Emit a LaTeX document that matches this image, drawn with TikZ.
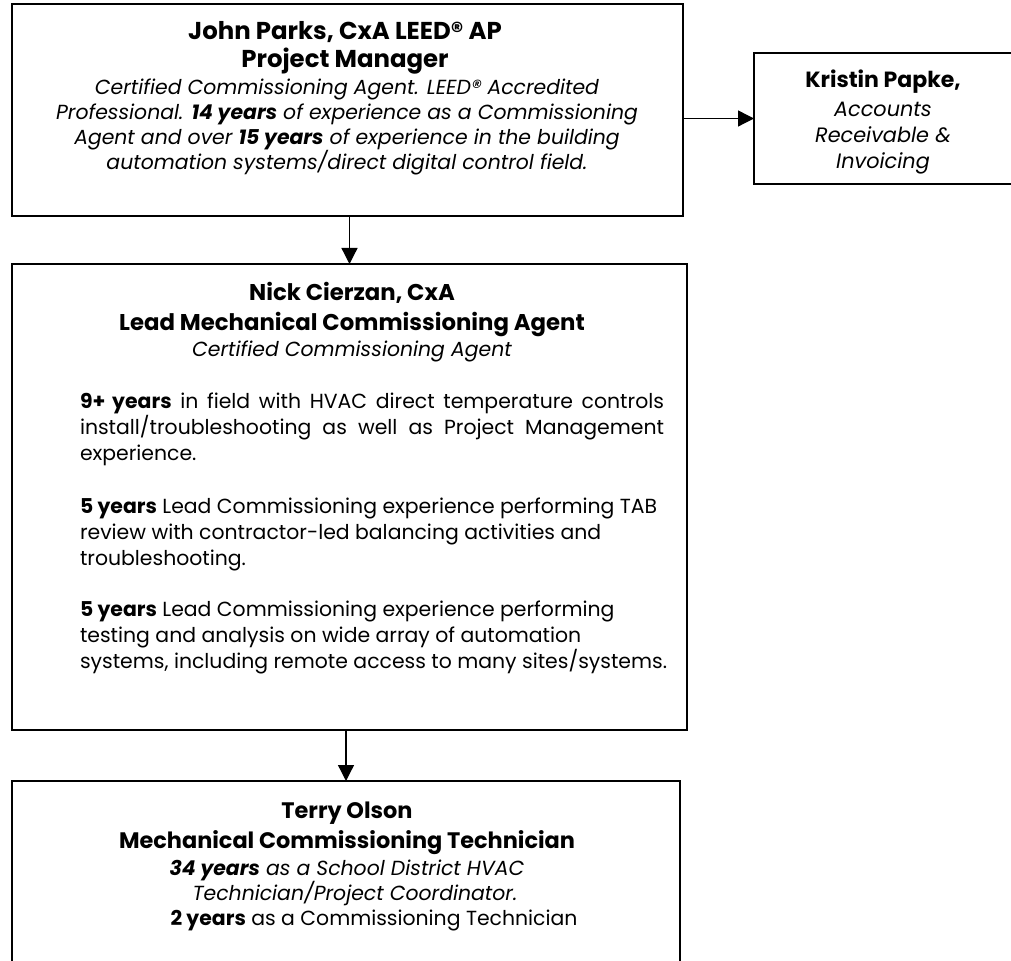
\documentclass[tikz,border=0pt]{standalone}
\usepackage{fontspec}
\setmainfont{Poppins}
\usetikzlibrary{arrows.meta}
\newcommand{\regmark}{\smash{®}}
\begin{document}
\begin{tikzpicture}[x=0.5pt,y=-0.5pt,
  box/.style={draw=black,line width=1pt,inner sep=0pt,outer sep=0pt},
  arr/.style={draw=black,line width=0.65pt,-{Triangle[length=8pt,width=8pt]}},
  txt/.style={inner sep=0pt,outer sep=0pt,text=black},
  body/.style={font=\fontsize{10.2}{12.5}\selectfont},
  mbody/.style={font=\fontsize{10.2}{13.2}\selectfont}
]
\useasboundingbox (0,0) rectangle (1011,961);
\clip (0,0) rectangle (1011,961);

% boxes
\node[box,minimum width=335.5pt,minimum height=106pt] (topbox) at (347.5,110) {};
\node[box,minimum width=130pt,minimum height=65.5pt] (kbox) at (884,118.5) {};
\node[box,minimum width=337.5pt,minimum height=233pt] (midbox) at (349.5,497) {};
\node[box,minimum width=334pt,minimum height=110pt] (botbox) at (346,891) {};

% connectors
\draw[arr] (topbox.east |- kbox.west) -- (kbox.west);
\draw[arr] (topbox.south -| midbox.north) -- (midbox.north);
\draw[arr] (midbox.south -| botbox.north) -- (botbox.north);

% top box text
\node[txt,anchor=north,align=center,font=\bfseries\fontsize{12.2}{14}\selectfont] (tophead) at (345,21)
 {John Parks, CxA LEED\regmark{} AP\\Project Manager};
\node[txt,body,anchor=north,align=center] (topbody) at (347,79)
 {{\itshape Certified Commissioning Agent. LEED\regmark{} Accredited}\\
  {\itshape Professional. \textbf{14 years} of experience as a Commissioning}\\
  {\itshape Agent and over \textbf{15 years} of experience in the building}\\
  {\itshape automation systems/direct digital control field.}};

% Kristin
\node[txt,anchor=north,align=center,font=\fontsize{10.4}{13.2}\selectfont] (ktxt) at (883,70)
 {{\bfseries\fontsize{11}{13.2}\selectfont Kristin Papke,}\\[1pt]
  {\itshape Accounts}\\
  {\itshape Receivable \&}\\
  {\itshape Invoicing}};

% middle box
\node[txt,anchor=north,align=center,font=\fontsize{10.2}{13}\selectfont] (mhead) at (352,282.5)
 {{\bfseries\fontsize{11.4}{13}\selectfont Nick Cierzan, CxA}\\[2pt]
  {\bfseries\fontsize{11.4}{13}\selectfont Lead Mechanical Commissioning Agent}\\
  {\itshape Certified Commissioning Agent}};
\node[txt,mbody,anchor=north west,align=left] (para1) at (80,392.5)
 {\makebox[292pt][s]{\textbf{9+ years} in field with HVAC direct temperature controls}\\
  \makebox[292pt][s]{install/troubleshooting as well as Project Management}\\
  experience.};
\node[txt,mbody,anchor=north west,align=left] (para2) at (80,497.5)
 {\textbf{5 years} Lead Commissioning experience performing TAB\\
  review with contractor-led balancing activities and\\
  troubleshooting.};
\node[txt,mbody,anchor=north west,align=left] (para3) at (80,600.5)
 {\textbf{5 years} Lead Commissioning experience performing\\
  testing and analysis on wide array of automation\\
  systems, including remote access to many sites/systems.};

% bottom box
\node[txt,anchor=north,align=center,font=\bfseries\fontsize{11.2}{15}\selectfont] (bhead) at (347,801.5)
 {Terry Olson\\Mechanical Commissioning Technician};
\node[txt,body,anchor=north,align=center] (btxt) at (347,859.5)
 {{\itshape\textbf{34 years} as a School District HVAC}\\
  {\hspace*{8pt}\itshape Technician/Project Coordinator.}\\
  {\hspace*{27pt}\textbf{2 years} as a Commissioning Technician}};
\end{tikzpicture}
\end{document}
